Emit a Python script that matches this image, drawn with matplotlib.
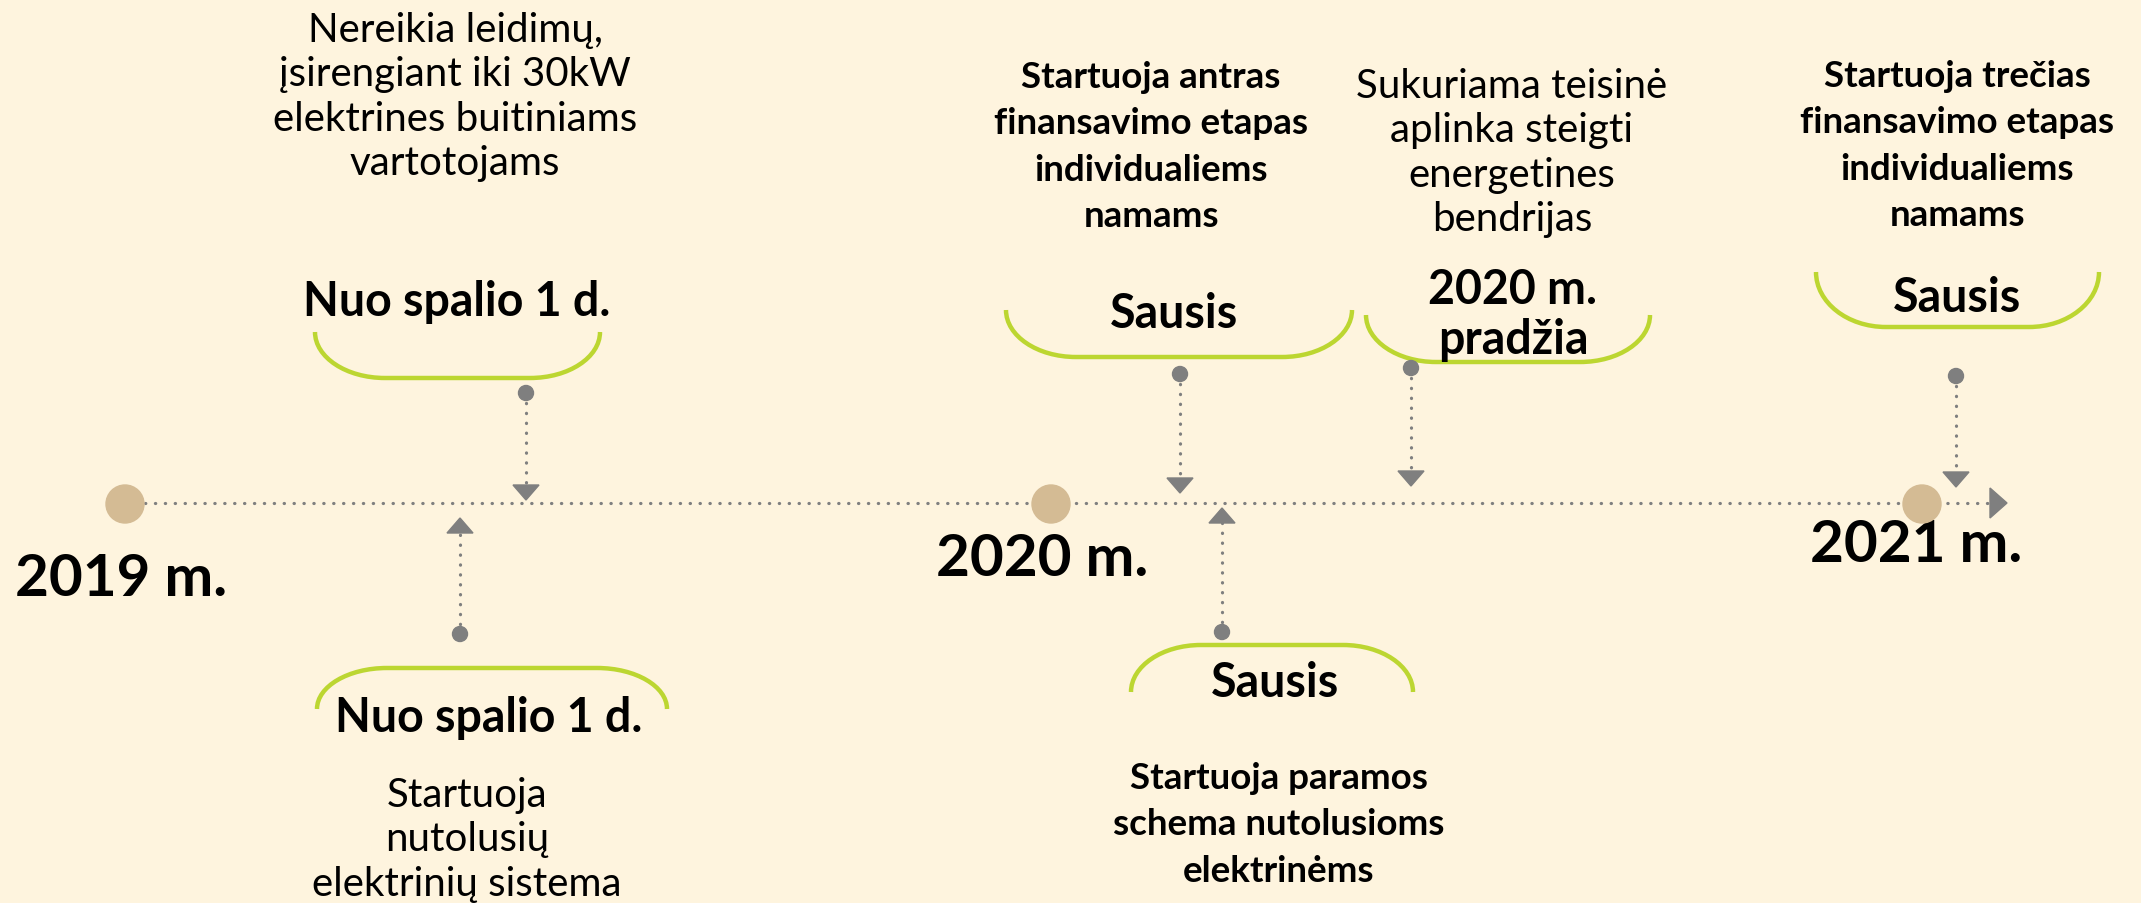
import numpy as np
import matplotlib
matplotlib.use('Agg')
import matplotlib.pyplot as plt
from matplotlib.path import Path
from matplotlib.patches import PathPatch, Polygon, Circle

plt.rcParams['font.family'] = ['Lato', 'DejaVu Sans']

BG = '#FEF4DE'
GREY = '#7F7F7F'
GREEN = '#BCD631'
TAN = '#D4BB94'

# timeline years (pixel position along the line)
years = ['2019 m.', '2020 m.', '2021 m.']
year_x = [125, 1051, 1922]
year_label_xy = [(121, 580), (1042, 560), (1916, 546)]

# events
ev_x = [526, 460, 1180, 1222, 1411, 1956]
ev_side = ['top', 'bottom', 'top', 'bottom', 'top', 'top']
ev_dot_y = [394, 635, 375, 633, 369, 377]
ev_tip_y = [501, 519, 494, 509, 487, 488]
ev_date = ['Nuo spalio 1 d.', 'Nuo spalio 1 d.', 'Sausis', 'Sausis',
           '2020 m.\npradžia', 'Sausis']
ev_text = ['Nereikia leidimų,\nįsirengiant iki 30kW\nelektrines buitiniams\nvartotojams',
           'Startuoja\nnutolusių\nelektrinių sistema',
           'Startuoja antras\nfinansavimo etapas\nindividualiems\nnamams',
           'Startuoja paramos\nschema nutolusioms\nelektrinėms',
           'Sukuriama teisinė\naplinka steigti\nenergetines\nbendrijas',
           'Startuoja trečias\nfinansavimo etapas\nindividualiems\nnamams']
ev_bold = [False, False, True, True, False, True]

# layout of brackets / labels (x0, x1, y_ends, y_curve)
arc_box = [(315, 600, 333, 379), (317, 667, 710, 669), (1006, 1352, 311, 358),
           (1131, 1413, 693, 646), (1366, 1650, 316, 363), (1816, 2099, 273, 328)]
date_xy = [(457, 302), (489, 718), (1174, 314), (1275, 683), (1513, 315), (1957, 298)]
text_xy = [(455, 97), (467, 840), (1151, 147), (1279, 825), (1512, 153), (1957, 146)]

fig = plt.figure(figsize=(21.41, 9.04), dpi=100)
fig.patch.set_facecolor(BG)
ax = fig.add_axes([0, 0, 1, 1])
ax.set_facecolor(BG)
ax.set_xlim(0, 2141)
ax.set_ylim(904, 0)
ax.axis('off')

def bracket(x0, x1, ye, yc, rx=70):
    k = 0.552
    verts = [(x0, ye),
             (x0, ye + k * (yc - ye)), (x0 + rx * (1 - k), yc), (x0 + rx, yc),
             (x1 - rx, yc),
             (x1 - rx * (1 - k), yc), (x1, ye + k * (yc - ye)), (x1, ye)]
    codes = [Path.MOVETO, Path.CURVE4, Path.CURVE4, Path.CURVE4, Path.LINETO,
             Path.CURVE4, Path.CURVE4, Path.CURVE4]
    ax.add_patch(PathPatch(Path(verts, codes), fill=False, edgecolor=GREEN,
                           lw=3.2, capstyle='butt', zorder=2))

def dotted(xs, ys):
    ax.plot(xs, ys, color=GREY, lw=2.3, linestyle=(0, (0.1, 3.0)),
            dash_capstyle='round', zorder=1)

# main timeline
dotted([145, 1992], [504, 504])
ax.add_patch(Polygon([(1990, 489), (1990, 519), (2007, 504)], closed=True,
                     color=GREY, zorder=3))
for x, lab, (lx, ly) in zip(year_x, years, year_label_xy):
    ax.add_patch(Circle((x, 505), 19, color=TAN, zorder=4))
    ax.text(lx, ly, lab, fontsize=42, fontweight='bold', ha='center',
            va='center', color='black')

for i in range(len(ev_x)):
    x = ev_x[i]
    d = 1 if ev_side[i] == 'top' else -1
    dotted([x, x], [ev_dot_y[i], ev_tip_y[i] - d * 12])
    ax.add_patch(Circle((x, ev_dot_y[i]), 7.5, color=GREY, zorder=3))
    t = ev_tip_y[i]
    ax.add_patch(Polygon([(x - 13, t - d * 15), (x + 13, t - d * 15), (x, t)],
                         closed=True, color=GREY, zorder=3))
    bracket(*arc_box[i])
    ax.text(*date_xy[i], ev_date[i], fontsize=33.5, fontweight='bold',
            ha='center', va='center', linespacing=1.17, zorder=5)
    if ev_bold[i]:
        ax.text(*text_xy[i], ev_text[i], fontsize=26.5, fontweight='bold',
                ha='center', va='center', linespacing=1.5)
    else:
        ax.text(*text_xy[i], ev_text[i], fontsize=29, ha='center',
                va='center', linespacing=1.25)

fig.savefig('out.png', dpi=100, facecolor=BG)
